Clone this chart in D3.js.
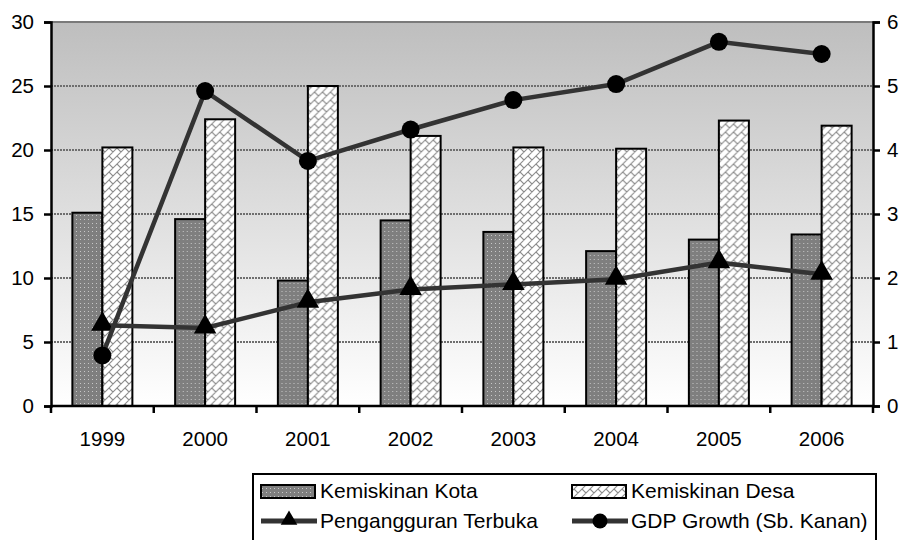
<!DOCTYPE html>
<html>
<head>
<meta charset="utf-8">
<script src="https://cdn.jsdelivr.net/npm/d3@7/dist/d3.min.js"></script>
<style>
  body { margin: 0; background: #fff; }
  text { font-family: "Liberation Sans", Arial, sans-serif; fill: #000; }
</style>
</head>
<body>
<svg id="chart"></svg>
<script>
// data
const years = ["1999", "2000", "2001", "2002", "2003", "2004", "2005", "2006"];
const kemiskinanKota = [15.1, 14.6, 9.8, 14.5, 13.6, 12.1, 13.0, 13.4];
const kemiskinanDesa = [20.2, 22.4, 25.0, 21.1, 20.2, 20.1, 22.3, 21.9];
const pengangguran = [6.3, 6.1, 8.1, 9.1, 9.5, 9.9, 11.2, 10.3];
const gdpGrowth = [0.79, 4.92, 3.83, 4.32, 4.78, 5.03, 5.69, 5.50];
const leftTicks = [0, 5, 10, 15, 20, 25, 30];
const rightTicks = [0, 1, 2, 3, 4, 5, 6];

const svgWidth = 903, svgHeight = 540;
const margin = {top: 22, right: 30, bottom: 134, left: 51},
    width = svgWidth - margin.left - margin.right,
    height = svgHeight - margin.top - margin.bottom;

const chart = d3.select("#chart")
    .attr("width", svgWidth)
    .attr("height", svgHeight);

const defs = chart.append("defs");

// background gradient of the plot area
const grad = defs.append("linearGradient")
    .attr("id", "bg").attr("x1", 0).attr("y1", 0).attr("x2", 0).attr("y2", 1);
grad.append("stop").attr("offset", "0%").attr("stop-color", "#bebebe");
grad.append("stop").attr("offset", "100%").attr("stop-color", "#ffffff");

// dotted dark fill for Kota
const dots = defs.append("pattern")
    .attr("id", "dots").attr("patternUnits", "userSpaceOnUse")
    .attr("width", 4).attr("height", 4);
dots.append("rect").attr("width", 4).attr("height", 4).attr("fill", "#7f7f7f");
dots.append("rect").attr("x", 1).attr("y", 1).attr("width", 1).attr("height", 1).attr("fill", "#c8c8c8");

// diagonal brick for Desa
const brick = defs.append("pattern")
    .attr("id", "brick").attr("patternUnits", "userSpaceOnUse")
    .attr("width", 8).attr("height", 8);
brick.append("rect").attr("width", 8).attr("height", 8).attr("fill", "#fff");
brick.append("path")
    .attr("d", "M0,8 L8,0 M-1,1 L1,-1 M7,9 L9,7 M2,6 L6,10 M6,2 L2,-2")
    .attr("stroke", "#8c8c8c").attr("stroke-width", 1.1).attr("fill", "none");

const g = chart.append("g")
    .attr("transform", `translate(${margin.left},${margin.top})`);

// scales
const x0 = d3.scaleBand().domain(years).range([0, width]).padding(0);
const x1 = d3.scaleBand().domain(["kota", "desa"]).range([0, x0.bandwidth()])
    .paddingInner(0).paddingOuter(0.7125);
const yLeft = d3.scaleLinear().domain([0, 30]).range([height, 0]);
const yRight = d3.scaleLinear().domain([0, 6]).range([height, 0]);

// plot background
g.append("rect").attr("width", width).attr("height", height).attr("fill", "url(#bg)");

// gridlines
g.append("g").selectAll("line")
    .data(leftTicks.filter(d => d > 0 && d < 30))
    .enter().append("line")
    .attr("x1", 0).attr("x2", width)
    .attr("y1", d => yLeft(d)).attr("y2", d => yLeft(d))
    .attr("stroke", "#6e6e6e").attr("stroke-width", 2)
    .attr("stroke-dasharray", "2,1");

g.append("line")
    .attr("x1", 0).attr("x2", width).attr("y1", 0).attr("y2", 0)
    .attr("stroke", "#7a7a7a").attr("stroke-width", 2);

// bars
const groups = g.append("g").selectAll("g")
    .data(years.map((y, i) => ({year: y, kota: kemiskinanKota[i], desa: kemiskinanDesa[i]})))
    .enter().append("g")
    .attr("transform", d => `translate(${x0(d.year)},0)`);

groups.append("rect")
    .attr("x", x1("kota"))
    .attr("y", d => yLeft(d.kota))
    .attr("width", x1.bandwidth())
    .attr("height", d => height - yLeft(d.kota))
    .attr("fill", "url(#dots)")
    .attr("stroke", "#000").attr("stroke-width", 2);

groups.append("rect")
    .attr("x", x1("desa"))
    .attr("y", d => yLeft(d.desa))
    .attr("width", x1.bandwidth())
    .attr("height", d => height - yLeft(d.desa))
    .attr("fill", "url(#brick)")
    .attr("stroke", "#000").attr("stroke-width", 2);

const cx = d => x0(d) + x0.bandwidth() / 2;

// Pengangguran line (left axis)
const lineLeft = d3.line()
    .x((d, i) => cx(years[i]))
    .y(d => yLeft(d));

g.append("path")
    .datum(pengangguran)
    .attr("d", lineLeft)
    .attr("fill", "none").attr("stroke", "#333").attr("stroke-width", 4.5);

const tri = d3.symbol().type(d3.symbolTriangle).size(220);
g.append("g").selectAll("path")
    .data(pengangguran)
    .enter().append("path")
    .attr("d", tri)
    .attr("transform", (d, i) => `translate(${cx(years[i])},${yLeft(d) - 1})`)
    .attr("fill", "#000");

// GDP line (right axis)
const lineRight = d3.line()
    .x((d, i) => cx(years[i]))
    .y(d => yRight(d));

g.append("path")
    .datum(gdpGrowth)
    .attr("d", lineRight)
    .attr("fill", "none").attr("stroke", "#333").attr("stroke-width", 4.5);

g.append("g").selectAll("circle")
    .data(gdpGrowth)
    .enter().append("circle")
    .attr("cx", (d, i) => cx(years[i]))
    .attr("cy", d => yRight(d))
    .attr("r", 9)
    .attr("fill", "#000");

// axes
const intFmt = d3.format("d");
const leftAxis = g.append("g")
    .call(d3.axisLeft(yLeft).tickValues(leftTicks).tickFormat(intFmt).tickSize(7).tickPadding(10));
const rightAxis = g.append("g")
    .attr("transform", `translate(${width},0)`)
    .call(d3.axisRight(yRight).tickValues(rightTicks).tickFormat(intFmt).tickSize(7).tickPadding(7));
const bottomAxis = g.append("g")
    .attr("transform", `translate(0,${height})`)
    .call(d3.axisBottom(x0).tickSize(0).tickPadding(25));

[leftAxis, rightAxis, bottomAxis].forEach(a => {
    a.select(".domain").attr("stroke", "#000").attr("stroke-width", 2.5);
    a.selectAll(".tick line").attr("stroke", "#000").attr("stroke-width", 2.5);
    a.selectAll("text").style("font-size", "20.5px")
        .style("font-family", "'Liberation Sans', Arial, sans-serif");
});
bottomAxis.select(".domain").attr("d", `M0,0H${width}`);

// category boundary ticks
g.append("g").selectAll("line")
    .data(years.concat(["end"]))
    .enter().append("line")
    .attr("x1", d => d === "end" ? width : x0(d))
    .attr("x2", d => d === "end" ? width : x0(d))
    .attr("y1", height).attr("y2", height + 7)
    .attr("stroke", "#000").attr("stroke-width", 2.5);

// legend
const legend = chart.append("g").attr("transform", "translate(253,474)");
legend.append("rect")
    .attr("width", 623).attr("height", 70)
    .attr("fill", "#fff").attr("stroke", "#000").attr("stroke-width", 2);

const legendItems = [
    {name: "Kemiskinan Kota", kind: "bar", fill: "url(#dots)", x: 8, y: 17},
    {name: "Kemiskinan Desa", kind: "bar", fill: "url(#brick)", x: 319, y: 17},
    {name: "Pengangguran Terbuka", kind: "tri", x: 8, y: 47},
    {name: "GDP Growth (Sb. Kanan)", kind: "circle", x: 319, y: 47}
];

legendItems.forEach(it => {
    const li = legend.append("g").attr("transform", `translate(${it.x},${it.y})`);
    if (it.kind === "bar") {
        li.append("rect").attr("x", 0).attr("y", -6).attr("width", 54).attr("height", 13)
            .attr("fill", it.fill).attr("stroke", "#000").attr("stroke-width", 2);
    } else {
        li.append("line").attr("x1", 0).attr("x2", 56).attr("y1", 0).attr("y2", 0)
            .attr("stroke", "#333").attr("stroke-width", 5);
        if (it.kind === "tri") {
            li.append("path").attr("d", d3.symbol().type(d3.symbolTriangle).size(120))
                .attr("transform", "translate(28,-1)").attr("fill", "#000");
        } else {
            li.append("circle").attr("cx", 28).attr("cy", 0).attr("r", 7.5).attr("fill", "#000");
        }
    }
    li.append("text").attr("x", 59).attr("y", 0).attr("dy", "0.35em")
        .style("font-size", "21px").text(it.name);
});
</script>
</body>
</html>
